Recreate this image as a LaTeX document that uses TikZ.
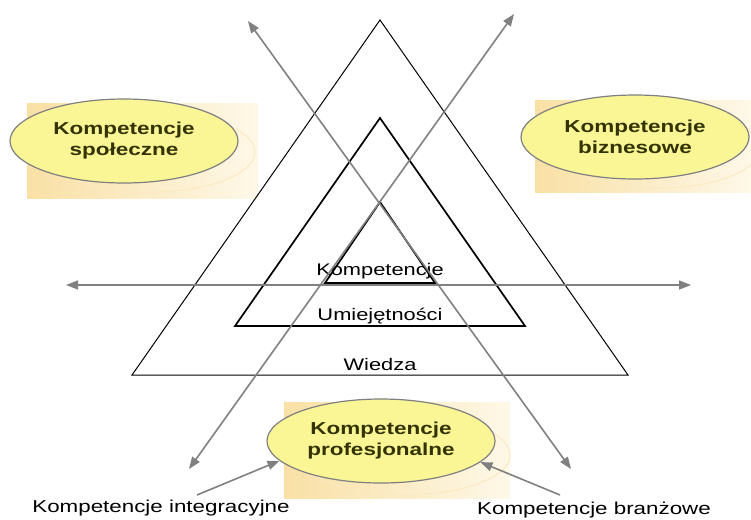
\documentclass[tikz,border=0pt]{standalone}
\usepackage{fontspec}
\usepackage{graphicx}
\setmainfont{Liberation Sans}
\usetikzlibrary{arrows.meta,shapes.geometric}
\definecolor{ellfill}{RGB}{250,246,150}
\definecolor{ellline}{RGB}{128,128,128}
\definecolor{elltext}{RGB}{51,51,0}
\definecolor{shadeA}{RGB}{249,224,165}
\definecolor{shadeB}{RGB}{254,248,232}
\definecolor{arrgray}{RGB}{128,128,128}
\tikzset{
  ell/.style={ellipse, draw=ellline, line width=1.2pt, fill=ellfill, minimum width=228pt, minimum height=84pt, inner sep=0pt, align=center, text=elltext, font=\fontsize{17.3}{21}\selectfont\bfseries},
  shadow/.style={left color=shadeA, right color=shadeB, draw=none},
  refl/.style={draw=shadeA!70!white, line width=1pt},
  tri/.style={draw=black, line join=miter},
  garrow/.style={draw=arrgray, line width=1.6pt, -{Triangle[length=12pt,width=9pt]}},
  garrow2/.style={draw=arrgray, line width=1.6pt, {Triangle[length=12pt,width=9pt]}-{Triangle[length=12pt,width=9pt]}},
  lvl/.style={font=\fontsize{16.8}{18}\selectfont, inner sep=0pt},
  lbl/.style={font=\fontsize{17.2}{18}\selectfont, inner sep=0pt}
}
\newcommand{\wx}[1]{\scalebox{1.3}[1]{#1}}
\begin{document}
\begin{tikzpicture}[x=1pt,y=-1pt]
\useasboundingbox (0,0) rectangle (751,519);
% shadow backgrounds
\shade[shadow] (27,103) rectangle (258,198);
\draw[refl] (150,152) ellipse (105pt and 40pt);
\shade[shadow] (535,100) rectangle (751,192);
\draw[refl] (660,148) ellipse (100pt and 40pt);
\shade[shadow] (284,402) rectangle (510,498);
\draw[refl] (405,455) ellipse (105pt and 40pt);
% triangles
\draw[tri, line width=1pt] (132,375) -- (380,20) -- (628,375) -- cycle;
\draw[tri, line width=1.7pt] (235,326) -- (380,118) -- (525,326) -- cycle;
\draw[tri, line width=1.7pt] (325,283) -- (380,202) -- (435,283) -- cycle;
% level labels
\node[lvl] (komp) at (380,271) {\wx{Kompetencje}};
\node[lvl] (umie) at (380,316) {\wx{Umiejętności}};
\node[lvl] (wied) at (380,364) {\wx{Wiedza}};
% axes
\coordinate (hl) at (66,285);
\coordinate (hr) at (691,285);
\coordinate (d1a) at (248,21);
\coordinate (d1b) at (571,469);
\coordinate (d2a) at (514,14);
\coordinate (d2b) at (189,469);
\draw[garrow2] (hl) -- (hr);
\draw[garrow2] (d1a) -- (d1b);
\draw[garrow2] (d2a) -- (d2b);
% ellipses
\node[ell] (spol) at (124,141) {\wx{Kompetencje}\\\wx{społeczne}};
\node[ell] (biz) at (635,137) {\wx{Kompetencje}\\\wx{biznesowe}};
\node[ell] (prof) at (381,441) {\wx{Kompetencje}\\\wx{profesjonalne}};
% bottom labels
\node[lbl] (integ) at (161,508) {\wx{Kompetencje integracyjne}};
\node[lbl] (bran) at (594,510) {\wx{Kompetencje branżowe}};
\coordinate (ia) at (197,495);
\coordinate (ba) at (560,495);
\draw[garrow] (ia) -- (prof.191);
\draw[garrow] (ba) -- (prof.348);
\end{tikzpicture}
\end{document}
